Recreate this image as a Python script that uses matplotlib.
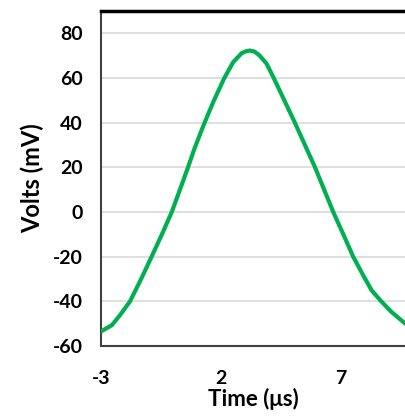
import matplotlib
matplotlib.use("Agg")
import matplotlib.pyplot as plt

plt.rcParams['font.family'] = ['Lato', 'DejaVu Sans']
plt.rcParams['axes.unicode_minus'] = False

# values
time_us = [-2.97, -2.55, -2.21, -1.79, -1.35, -0.89, -0.46, -0.05, 0.29, 0.61,
           0.9, 1.28, 1.68, 2.14, 2.51, 2.86, 3.05, 3.21, 3.4, 3.6, 3.9, 4.2,
           4.64, 5.08, 5.5, 5.92, 6.3, 6.68, 7.1, 7.51, 7.93, 8.28, 8.68, 9.1, 9.67]
volts_mv = [-53.3, -50.7, -46.2, -40.0, -30.5, -20.0, -10.0, 0.0, 10.0, 19.5,
            28.5, 39.0, 49.3, 60.0, 67.1, 71.1, 72.0, 72.3, 71.8, 70.2, 66.4, 60.0,
            50.0, 40.0, 30.0, 20.0, 10.0, 0.0, -10.0, -20.0, -28.4, -35.1, -40.0, -44.7, -49.9]

x_ticks = [-3, 2, 7]
y_ticks = [-60, -40, -20, 0, 20, 40, 60, 80]

fig = plt.figure(figsize=(4.05, 4.18), dpi=100)
ax = fig.add_axes([101 / 405, 72 / 418, 304 / 405, 335 / 418])

ax.plot(time_us, volts_mv, color="#00B050", lw=3, solid_capstyle="round",
        solid_joinstyle="round", zorder=3)

ax.set_xlim(-3, 9.67)
ax.set_ylim(-60, 90)
ax.set_xticks(x_ticks)
ax.set_xticklabels([str(t) for t in x_ticks])
ax.set_yticks(y_ticks)
ax.set_yticklabels([str(t) for t in y_ticks])
ax.yaxis.grid(True, color="#D9D9D9", lw=1.2)
ax.set_axisbelow(True)

ax.tick_params(length=0, labelsize=14)
ax.tick_params(axis="x", pad=17)
ax.tick_params(axis="y", pad=13)
for lab in ax.get_xticklabels() + ax.get_yticklabels():
    lab.set_fontweight("bold")

ax.set_xlabel("Time (μs)", fontsize=16, fontweight="bold", labelpad=1)
ax.set_ylabel("Volts (mV)", fontsize=17, fontweight="bold", labelpad=6)

ax.spines["right"].set_visible(False)
ax.spines["top"].set_color("black")
ax.spines["top"].set_linewidth(2.5)
for side in ("left", "bottom"):
    ax.spines[side].set_color("#404040")
    ax.spines[side].set_linewidth(1.5)

fig.savefig("out.png", dpi=100)
